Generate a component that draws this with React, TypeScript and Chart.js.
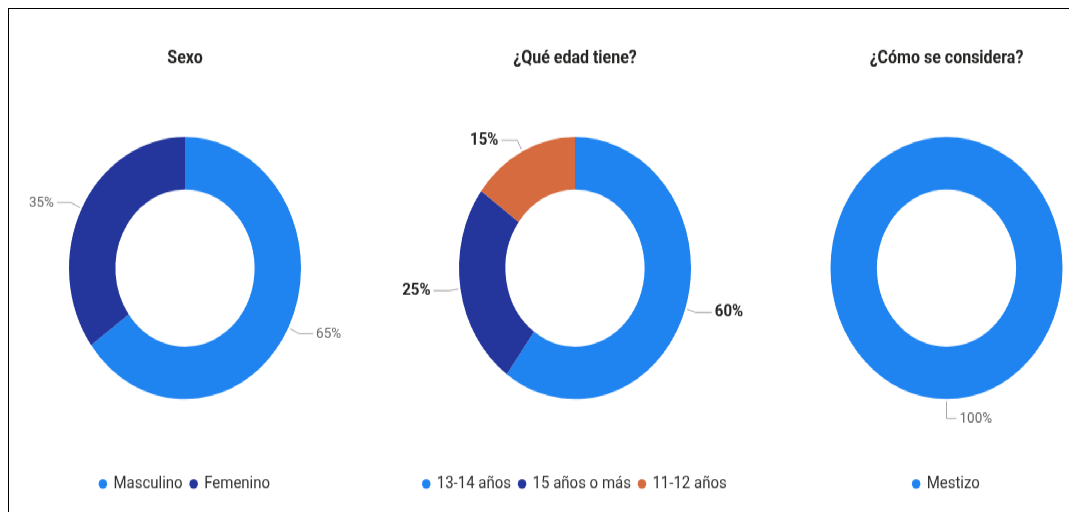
import React, { useEffect, useRef } from "react";
import { Chart, registerables } from "chart.js";

Chart.register(...registerables);

// ---- Data ----
const sexoTitle = "Sexo";
const sexoLabels = ["Masculino", "Femenino"];
const sexoValues = [65, 35];

const edadTitle = "¿Qué edad tiene?";
const edadLabels = ["13-14 años", "15 años o más", "11-12 años"];
const edadValues = [60, 25, 15];

const etniaTitle = "¿Cómo se considera?";
const etniaLabels = ["Mestizo"];
const etniaValues = [100];

const LIGHT_BLUE = "#1F83F0";
const NAVY = "#24369C";
const ORANGE = "#D56B3E";

const SCALE_Y = 1.13;
const LOGICAL_H = 460;

const leaderPlugin = {
  id: "leaderLabels",
  afterDatasetsDraw(chart: any, _args: any, opts: any) {
    const { ctx } = chart;
    const meta = chart.getDatasetMeta(0);
    const data = chart.data.datasets[0].data as number[];
    const total = data.reduce((a, b) => a + b, 0);
    ctx.save();
    meta.data.forEach((arc: any, i: number) => {
      const p = arc.getProps(["x", "y", "startAngle", "endAngle", "outerRadius"], true);
      const mid = (p.startAngle + p.endAngle) / 2;
      const cos = Math.cos(mid);
      const sin = Math.sin(mid);
      const x0 = p.x + cos * (p.outerRadius + 2);
      const y0 = p.y + sin * (p.outerRadius + 2);
      const x1 = p.x + cos * (p.outerRadius + opts.radial);
      const y1 = p.y + sin * (p.outerRadius + opts.radial);
      const dir = cos < -0.01 ? -1 : 1;
      const x2 = x1 + dir * opts.horiz;
      ctx.strokeStyle = opts.lineColor;
      ctx.lineWidth = 1;
      ctx.beginPath();
      ctx.moveTo(x0, y0);
      ctx.lineTo(x1, y1);
      ctx.lineTo(x2, y1);
      ctx.stroke();
      ctx.fillStyle = opts.color;
      ctx.font = `${opts.weight} ${opts.size}px Roboto, sans-serif`;
      ctx.textAlign = dir < 0 ? "right" : "left";
      ctx.textBaseline = "middle";
      ctx.fillText(`${Math.round((data[i] / total) * 100)}%`, x2 + dir * 3, y1);
    });
    ctx.restore();
  },
};

type DonutProps = {
  title: string;
  labels: string[];
  values: number[];
  colors: string[];
  left: number;
  width: number;
  labelColor: string;
  labelWeight: string;
  labelSize: number;
  radial: number;
  horiz: number;
};

function Donut(props: DonutProps) {
  const ref = useRef<HTMLCanvasElement | null>(null);
  useEffect(() => {
    if (!ref.current) return;
    const chart = new Chart(ref.current, {
      type: "doughnut",
      data: {
        labels: props.labels,
        datasets: [
          {
            data: props.values,
            backgroundColor: props.colors,
            borderWidth: 0,
          },
        ],
      },
      options: {
        responsive: false,
        animation: false,
        devicePixelRatio: 1,
        radius: 116,
        cutout: "60%",
        layout: { padding: { top: 0, bottom: 14.3, left: 0, right: 0 } },
        plugins: {
          tooltip: { enabled: false },
          title: {
            display: true,
            text: props.title,
            color: "#252423",
            font: { family: "Roboto", size: 16, weight: "bold", lineHeight: 1.1 },
            padding: { top: 43.5, bottom: 8 },
          },
          legend: {
            display: true,
            position: "bottom",
            title: {
              display: true,
              text: " ",
              font: { size: 1 },
              padding: { top: 6, bottom: 0 },
            },
            labels: {
              usePointStyle: true,
              pointStyle: "circle",
              boxWidth: 6,
              boxHeight: 6,
              padding: 8,
              color: "#333333",
              font: { family: "Roboto", size: 15 },
            },
          },
          leaderLabels: {
            radial: props.radial,
            horiz: props.horiz,
            color: props.labelColor,
            weight: props.labelWeight,
            size: props.labelSize,
            lineColor: "#A8A8A8",
          },
        } as any,
      },
      plugins: [leaderPlugin],
    });
    return () => chart.destroy();
  }, []);
  return (
    <canvas
      ref={ref}
      width={props.width}
      height={LOGICAL_H}
      style={{
        position: "absolute",
        left: props.left,
        top: 0,
        width: props.width,
        height: LOGICAL_H,
      }}
    />
  );
}

export default function App() {
  return (
    <div
      style={{
        position: "relative",
        width: 1077,
        height: 520,
        margin: -8,
        overflow: "hidden",
        background: "#fff",
      }}
    >
      <div
        style={{
          position: "absolute",
          left: 7,
          top: 7,
          width: 1070,
          height: 513,
          borderTop: "2px solid #000",
          borderLeft: "2px solid #000",
          boxSizing: "border-box",
        }}
      />
      <div
        style={{
          position: "absolute",
          left: 0,
          top: 0,
          width: 1077,
          height: LOGICAL_H,
          transform: `scaleY(${SCALE_Y})`,
          transformOrigin: "0 0",
        }}
      >
        <Donut
          title={sexoTitle}
          labels={sexoLabels}
          values={sexoValues}
          colors={[LIGHT_BLUE, NAVY]}
          left={15}
          width={340}
          labelColor="#666666"
          labelWeight="normal"
          labelSize={13.5}
          radial={12}
          horiz={14}
        />
        <Donut
          title={edadTitle}
          labels={edadLabels}
          values={edadValues}
          colors={[LIGHT_BLUE, NAVY, ORANGE]}
          left={385}
          width={380}
          labelColor="#252423"
          labelWeight="bold"
          labelSize={15}
          radial={11}
          horiz={16}
        />
        <Donut
          title={etniaTitle}
          labels={etniaLabels}
          values={etniaValues}
          colors={[LIGHT_BLUE]}
          left={816}
          width={261}
          labelColor="#666666"
          labelWeight="normal"
          labelSize={13.5}
          radial={17}
          horiz={10}
        />
      </div>
    </div>
  );
}
